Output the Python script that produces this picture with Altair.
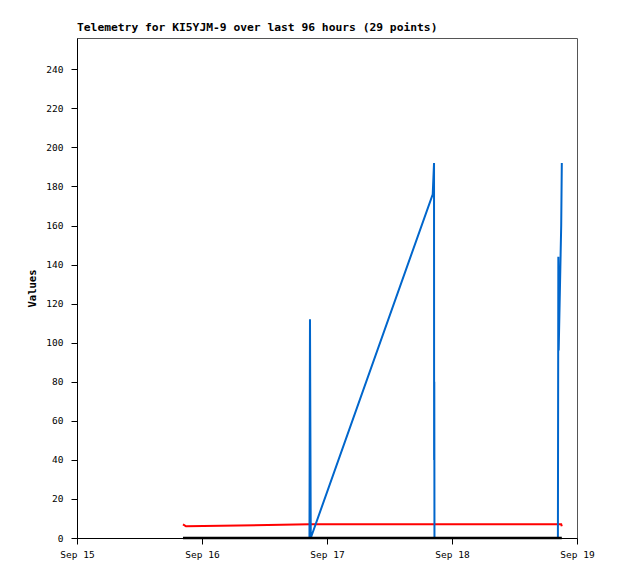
import altair as alt
import pandas as pd

# Telemetry samples (UTC timestamps) and channel values
times = [
    "2023-09-15T20:21:00Z", "2023-09-15T20:56:00Z",
    "2023-09-16T20:38:00Z", "2023-09-16T20:44:00Z", "2023-09-16T20:53:00Z",
    "2023-09-17T20:18:00Z", "2023-09-17T20:33:00Z", "2023-09-17T20:34:00Z",
    "2023-09-17T20:36:00Z", "2023-09-17T20:38:00Z",
    "2023-09-18T20:20:00Z", "2023-09-18T20:25:00Z", "2023-09-18T20:29:00Z",
    "2023-09-18T20:58:00Z", "2023-09-18T21:05:00Z",
]
red_vals = [7, 6, 7, 7, 7, 7, 7, 7, 7, 7, 7, 7, 7, 7, 6]
blue_vals = [0, 0, 0, 112, 0, 176, 192, 40, 80, 0, 0, 144, 96, 160, 192]
black_vals = [0] * 15

y_ticks = list(range(0, 241, 20))
day_ticks = [15, 16, 17, 18, 19]

df = pd.DataFrame({"time": times, "red": red_vals, "blue": blue_vals, "black": black_vals})

MONO = "DejaVu Sans Mono"

x_enc = alt.X(
    "time:T",
    scale=alt.Scale(
        type="utc",
        domain=[alt.DateTime(year=2023, month=9, date=15, utc=True),
                alt.DateTime(year=2023, month=9, date=19, utc=True)],
        nice=False,
    ),
    axis=alt.Axis(
        values=[alt.DateTime(year=2023, month=9, date=d, utc=True) for d in day_ticks],
        format="%b %d", title=None, grid=False, labelFlush=False,
        labelFont=MONO, labelFontSize=9.5, labelColor="black",
        tickColor="black", tickSize=6, domainColor="black",
        labelPadding=5, labelOverlap=False,
    ),
)

y_axis = alt.Axis(
    values=y_ticks, title="Values", grid=False,
    labelFont=MONO, labelFontSize=9.5, labelColor="black",
    tickColor="black", tickSize=6, domainColor="black", labelPadding=8,
    titleFont=MONO, titleFontSize=10.5, titleFontWeight="bold", titleColor="black",
    titlePadding=8,
)
y_scale = alt.Scale(domain=[0, 256], nice=False, zero=True)

base = alt.Chart(df)
red = base.mark_line(color="#ff0000", strokeWidth=2).encode(
    x=x_enc, y=alt.Y("red:Q", scale=y_scale, axis=y_axis))
blue = base.mark_line(color="#0066cc", strokeWidth=2).encode(
    x=x_enc, y=alt.Y("blue:Q", scale=y_scale, axis=y_axis))
black = base.mark_line(color="#000000", strokeWidth=2.5).encode(
    x=x_enc, y=alt.Y("black:Q", scale=y_scale, axis=y_axis))

chart = alt.layer(red, blue, black).properties(
    width=500, height=500,
    title=alt.TitleParams(
        "Telemetry for KI5YJM-9 over last 96 hours (29 points)",
        anchor="start", frame="group", font=MONO, fontSize=11.3,
        fontWeight="bold", color="black", offset=5,
    ),
    padding={"left": 69, "top": 30, "right": 33, "bottom": 33},
    autosize=alt.AutoSizeParams(type="none"),
    background="white",
).configure_view(stroke="#555555", strokeWidth=1)

chart.save("out.html", embed_options={"renderer": "svg", "actions": False})
